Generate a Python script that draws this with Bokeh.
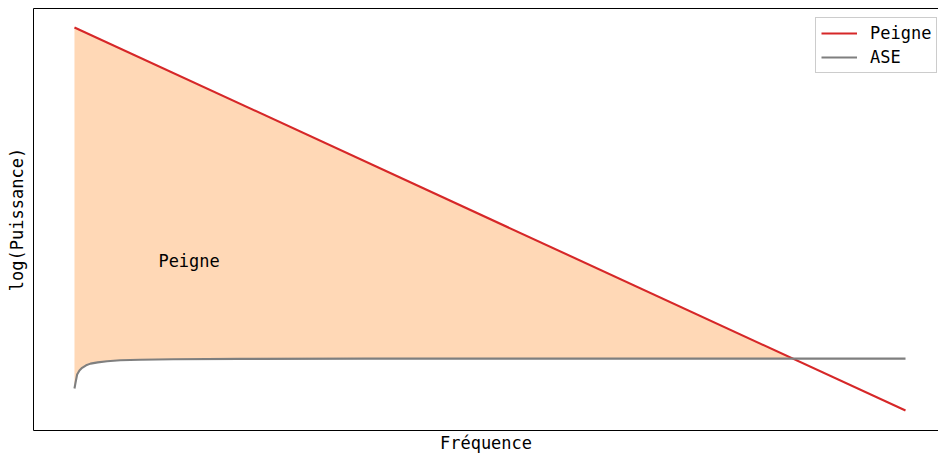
import numpy as np
from bokeh.plotting import figure
from bokeh.models import Range1d, Legend, LegendItem, LinearAxis
from bokeh.core.properties import value
from bokeh.embed import file_html
from bokeh.resources import INLINE

# Data (arbitrary units)
comb_x = [0.0, 100.0]
comb_y = [10.0, -0.41]

ase_x = [0, 0.12, 0.32, 0.6, 0.92, 1.4, 1.93, 2.8, 3.93, 5.5, 7.9, 11.9, 20, 35, 60, 100]
ase_y = [0.19, 0.34, 0.57, 0.68, 0.75, 0.82, 0.865, 0.90, 0.93, 0.955, 0.97, 0.985, 0.995, 1.0, 1.0, 1.0]

x_label = "Fréquence"
y_label = "log(Puissance)"
series_names = ["Peigne", "ASE"]
annot = "Peigne"

FONT = "DejaVu Sans Mono"

p = figure(width=938, height=455, output_backend="svg", toolbar_location=None,
           x_range=Range1d(-4.93, 103.97), y_range=Range1d(-0.952, 10.515),
           min_border_left=33, min_border_top=8, min_border_right=0, min_border_bottom=20)
p.grid.visible = False
p.outline_line_color = None
p.background_fill_color = "white"
p.border_fill_color = "white"

top_axis = LinearAxis()
p.add_layout(top_axis, "above")

bottom_axis = p.below[0]
left_axis = p.left[0]

for ax in (bottom_axis, left_axis, top_axis):
    ax.ticker = []
    ax.major_tick_line_color = None
    ax.minor_tick_line_color = None
    ax.major_label_text_font_size = "0px"
    ax.major_label_standoff = 0
    ax.major_tick_out = 0
    ax.major_tick_in = 0
    ax.axis_line_color = "black"
    ax.axis_line_width = 1
    ax.axis_label_text_font = FONT
    ax.axis_label_text_font_size = "17px"
    ax.axis_label_text_font_style = "normal"
    ax.axis_label_text_color = "black"
bottom_axis.axis_label = x_label
left_axis.axis_label = y_label
bottom_axis.axis_label_standoff = 2
left_axis.axis_label_standoff = 7

# Fill between ASE and comb where comb is above
xs = np.linspace(comb_x[0], comb_x[1], 2001)
ase_i = np.interp(xs, ase_x, ase_y)
comb_i = np.interp(xs, comb_x, comb_y)
top = np.maximum(comb_i, ase_i)
p.varea(x=xs, y1=ase_i, y2=top, fill_color="#ff7f0e", fill_alpha=0.3)

r1 = p.line(comb_x, comb_y, line_color="#d62728", line_width=2.1)
r2 = p.line(ase_x, ase_y, line_color="#7f7f7f", line_width=2.1)

p.text(x=[10.1], y=[3.65], text=[annot], text_font=value(FONT), text_font_size="17px",
       text_baseline="middle", text_align="left", text_color="black")

legend = Legend(items=[LegendItem(label=series_names[0], renderers=[r1]),
                       LegendItem(label=series_names[1], renderers=[r2])],
                location=(782, 357))
legend.label_text_font = FONT
legend.label_text_font_size = "17px"
legend.label_text_color = "black"
legend.border_line_color = "#cccccc"
legend.border_line_alpha = 1
legend.background_fill_alpha = 0.8
legend.glyph_width = 36
legend.glyph_height = 20
legend.label_height = 20
legend.label_standoff = 13
legend.spacing = 4
legend.padding = 5
legend.margin = 0
p.add_layout(legend)

open("out.html", "w").write(file_html(p, INLINE))
